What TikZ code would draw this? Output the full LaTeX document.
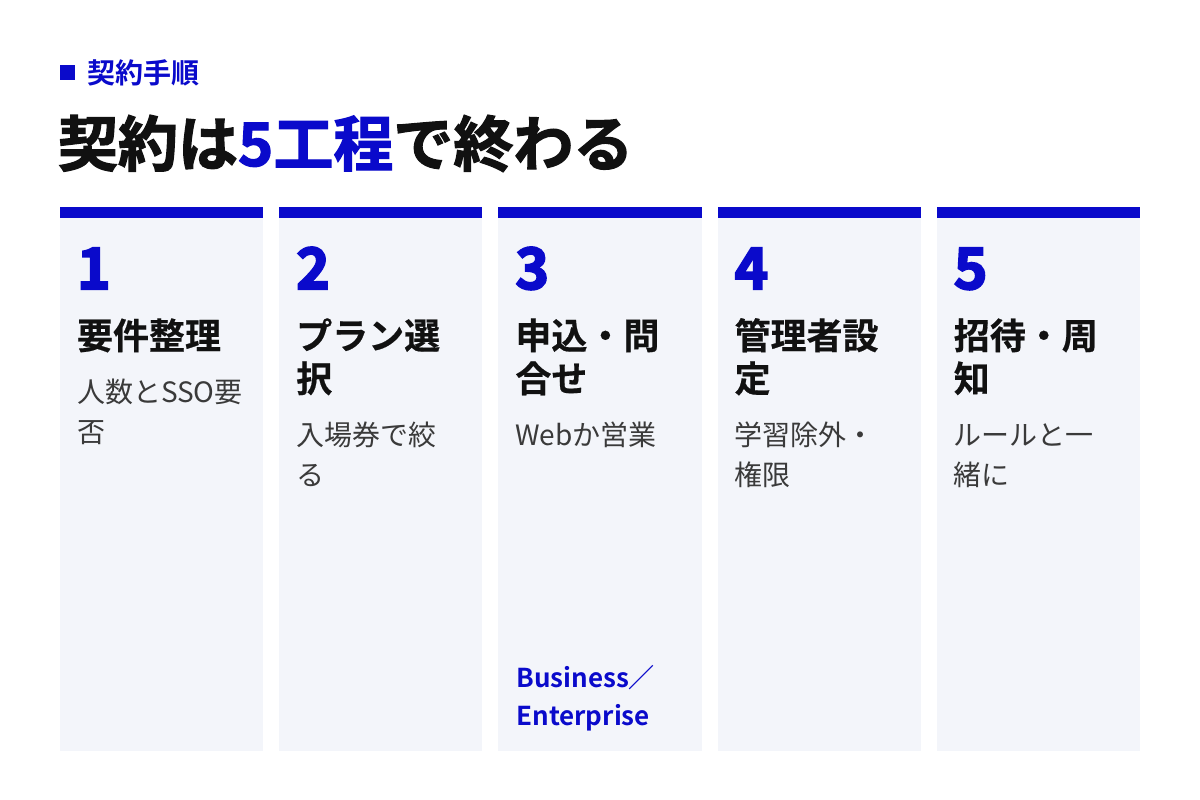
\documentclass[tikz,border=0pt]{standalone}
\usepackage{fontspec}
\setmainfont{Noto Sans CJK JP}
\newfontfamily\jpbold{Noto Sans CJK JP}[UprightFont={* Bold}]
\newfontfamily\jpsemi{Noto Sans CJK JP}[UprightFont={* Bold},FakeBold=0.5]
\newfontfamily\jpheavy{Noto Sans CJK JP}[UprightFont={* Bold},FakeBold=2]
\newfontfamily\jpnum{Noto Sans CJK JP}[UprightFont={* Bold},FakeBold=3.5]
\definecolor{brand}{HTML}{0A0ACB}
\definecolor{cardbg}{HTML}{F3F5FA}
\definecolor{ink}{HTML}{111111}
\definecolor{desc}{HTML}{3A3A3A}
\tikzset{
  txt/.style={anchor=base west,inner sep=0pt,outer sep=0pt},
  num/.style={txt,text=brand,font=\jpnum\fontsize{57}{57}\selectfont},
  ttl/.style={txt,text=ink,font=\jpsemi\fontsize{36}{36}\selectfont},
  dsc/.style={txt,text=desc,font=\fontsize{28}{28}\selectfont},
  foot/.style={txt,text=brand,font=\jpbold\fontsize{26}{26}\selectfont},
  bar/.style={fill=brand},
  card/.style={fill=cardbg},
}
\begin{document}
\begin{tikzpicture}[x=1pt,y=-1pt]
\useasboundingbox (0,0) rectangle (1200,800);
\fill[white] (0,0) rectangle (1200,800);
% header
\fill[brand] (60,65) rectangle (75,80);
\node[txt,text=brand,font=\jpbold\fontsize{28}{28}\selectfont] (label) at (87,84) {契約手順};
\node[txt,text=ink,font=\jpheavy\fontsize{60}{60}\selectfont] (title) at (58,166) {契約は\textcolor{brand}{5工程}で終わる};
% cards
\foreach \i/\x in {1/60,2/279.2,3/498.4,4/717.6,5/936.8}{
  \fill[card] (\x,218) rectangle ++(203.2,533);
  \fill[bar] (\x,207) rectangle ++(203.2,11);
}
% card 1
\node[num] (n1) at (77,289) {1};
\node[ttl] (t1a) at (77,349) {要件整理};
\node[dsc] (d1a) at (77,402.5) {人数とSSO要};
\node[dsc] (d1b) at (77,442.5) {否};
% card 2
\node[num] (n2) at (296.2,289) {2};
\node[ttl] (t2a) at (296.2,349) {プラン選};
\node[ttl] (t2b) at (296.2,392) {択};
\node[dsc] (d2a) at (296.2,445.5) {入場券で絞};
\node[dsc] (d2b) at (296.2,485.5) {る};
% card 3
\node[num] (n3) at (515.4,289) {3};
\node[ttl] (t3a) at (515.4,349) {申込・問};
\node[ttl] (t3b) at (515.4,392) {合せ};
\node[dsc] (d3a) at (515.4,445.5) {Webか営業};
\node[foot] (f3a) at (516.4,687) {Business／};
\node[foot] (f3b) at (516.4,725) {Enterprise};
% card 4
\node[num] (n4) at (734.6,289) {4};
\node[ttl] (t4a) at (734.6,349) {管理者設};
\node[ttl] (t4b) at (734.6,392) {定};
\node[dsc] (d4a) at (734.6,445.5) {学習除外・};
\node[dsc] (d4b) at (734.6,485.5) {権限};
% card 5
\node[num] (n5) at (953.8,289) {5};
\node[ttl] (t5a) at (953.8,349) {招待・周};
\node[ttl] (t5b) at (953.8,392) {知};
\node[dsc] (d5a) at (953.8,445.5) {ルールと一};
\node[dsc] (d5b) at (953.8,485.5) {緒に};
\end{tikzpicture}
\end{document}
